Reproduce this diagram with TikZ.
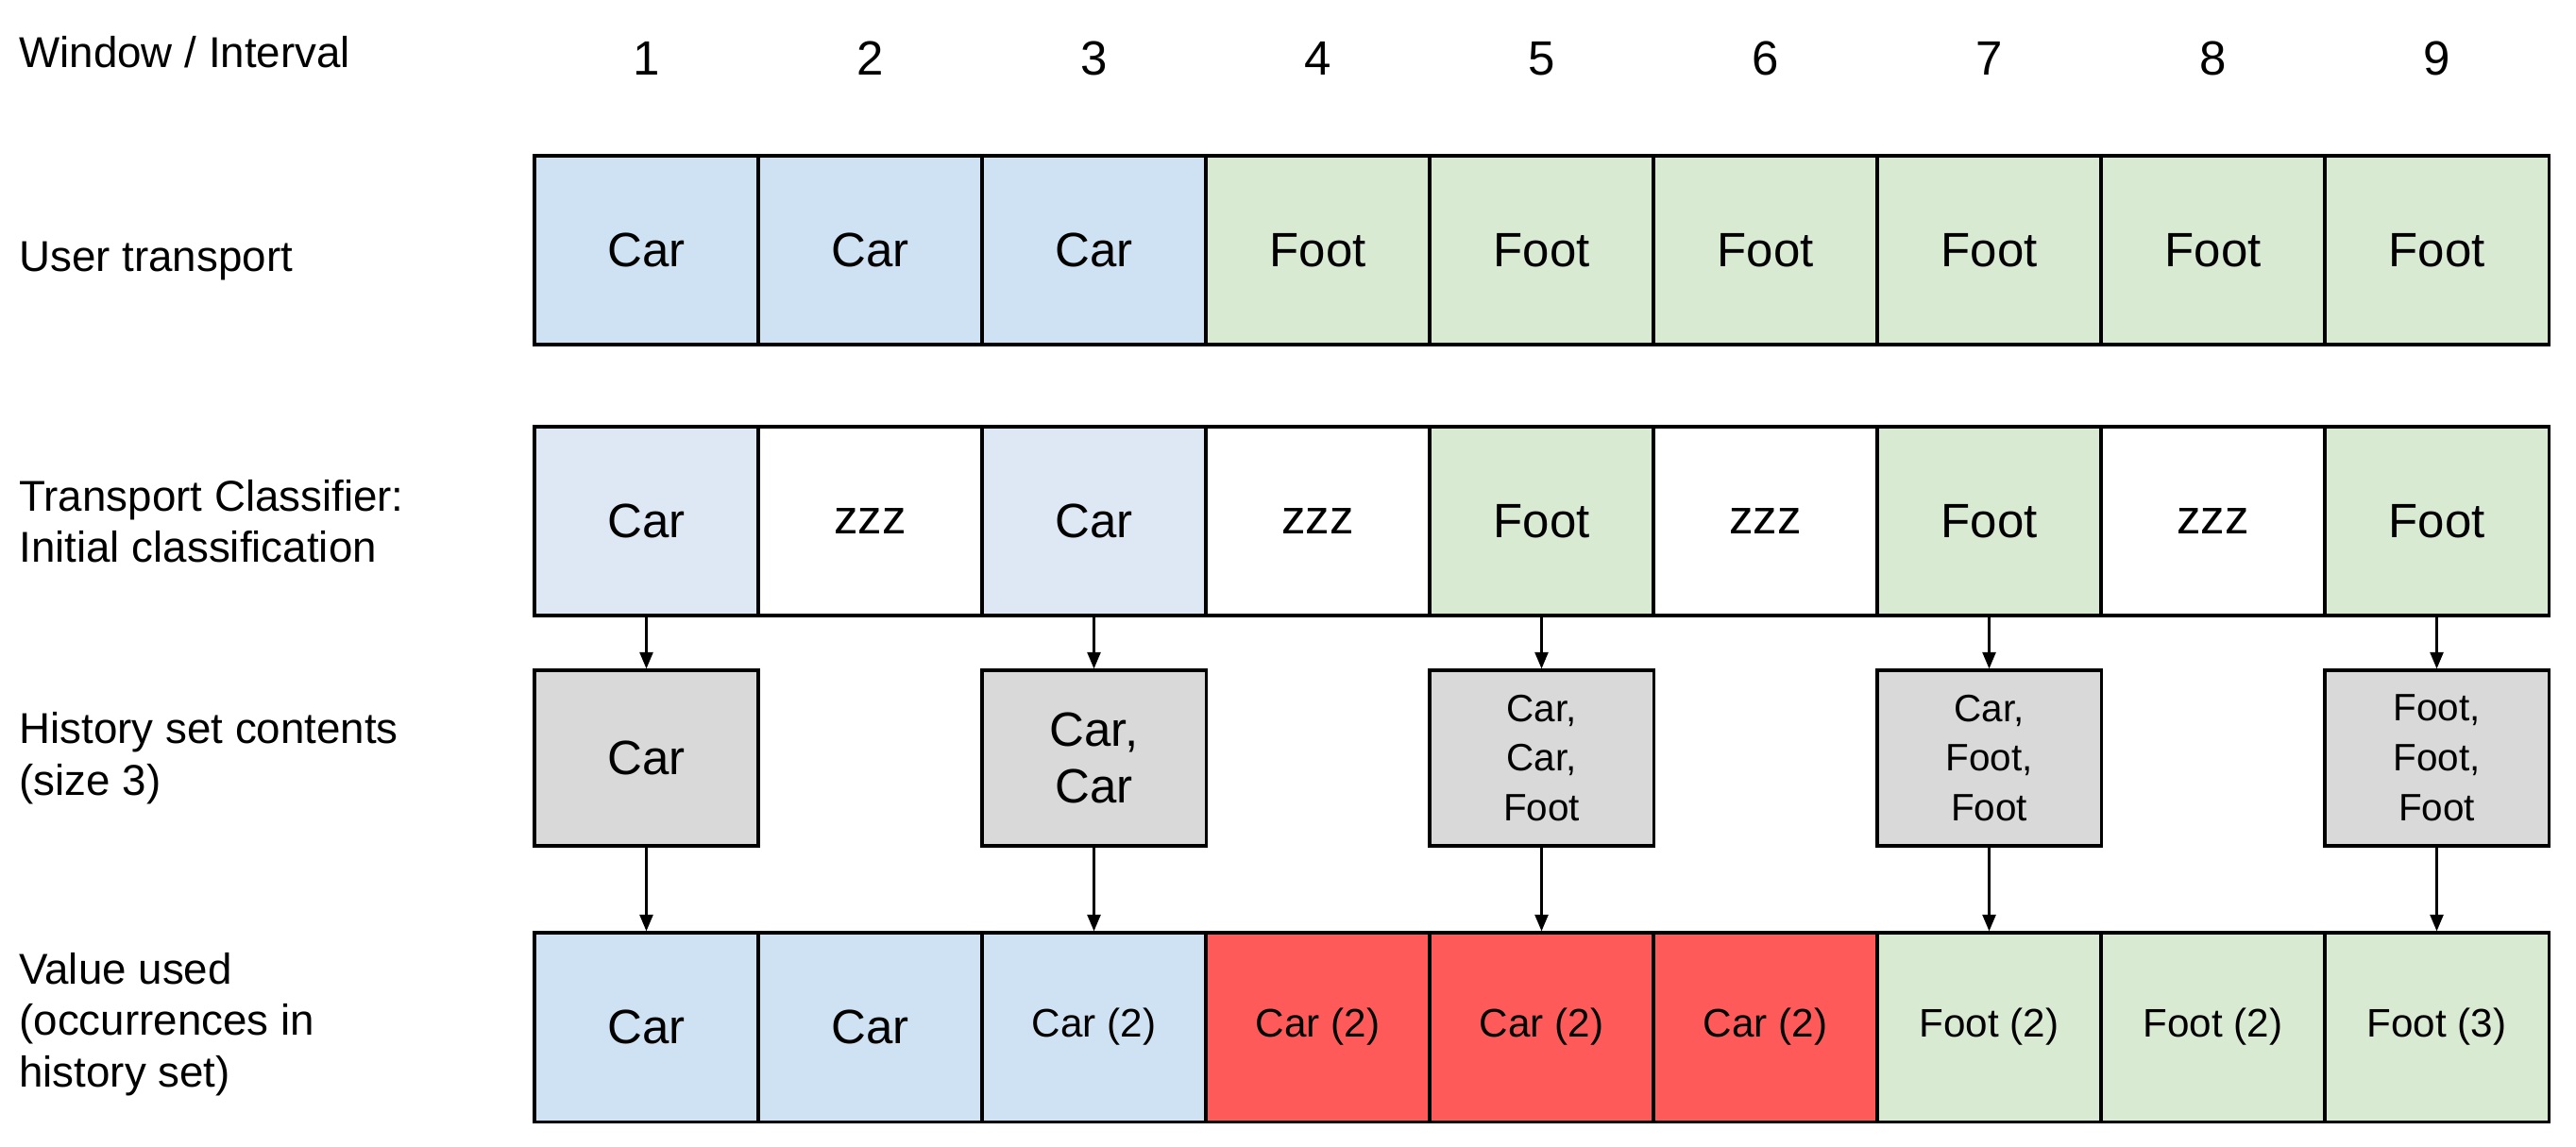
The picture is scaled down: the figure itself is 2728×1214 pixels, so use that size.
\documentclass[tikz,border=0pt]{standalone}
\usepackage{fontspec}
\setmainfont{Liberation Sans}
\usetikzlibrary{positioning}
\usetikzlibrary{arrows.meta}

\definecolor{carblue}{HTML}{CFE2F3}
\definecolor{carpale}{HTML}{DEE8F4}
\definecolor{footgreen}{HTML}{D9EAD3}
\definecolor{histgray}{HTML}{D9D9D9}
\definecolor{badred}{HTML}{FF5A5A}

\tikzset{
  cell/.style={draw, line width=0.9pt, minimum width=2.37cm, minimum height=2cm, inner sep=0pt, font=\fontsize{14.5}{16}\selectfont},
  hist/.style={cell, fill=histgray, minimum height=1.86cm, align=center},
  rowlabel/.style={anchor=west, align=left, font=\fontsize{13}{15.5}\selectfont},
  flow/.style={-{Triangle[length=5pt,width=4pt]}, line width=0.7pt},
}

\begin{document}
\begin{tikzpicture}[x=0.01cm, y=-0.01cm]
        \useasboundingbox (0,0) rectangle (2728,1214);

        % row labels
        \node[rowlabel] (lwin) at (8,55) {Window / Interval};
        \node[rowlabel] (luser) at (8,277) {User transport};
        \node[rowlabel] (lclass) at (8,552) {Transport Classifier:\\Initial classification};
        \node[rowlabel] (lhist) at (8,803) {History set contents\\(size 3)};
        \node[rowlabel] (lused) at (8,1085) {Value used\\(occurrences in\\history set)};

        % window numbers
        \foreach \i in {1,...,9}
            \node[font=\fontsize{14.5}{16}\selectfont] (num\i) at (447.5+237*\i,62) {\i};

        % user transport
        \foreach \t/\c [count=\i] in {Car/carblue,Car/carblue,Car/carblue,Foot/footgreen,Foot/footgreen,Foot/footgreen,Foot/footgreen,Foot/footgreen,Foot/footgreen}
            \node[cell, fill=\c] (user\i) at (447.5+237*\i,265) {\t};

        % initial classification
        \foreach \t/\c [count=\i] in {Car/carpale,zzz/white,Car/carpale,zzz/white,Foot/footgreen,zzz/white,Foot/footgreen,zzz/white,Foot/footgreen}
            \node[cell, fill=\c] (init\i) at (447.5+237*\i,552) {\t};

        % history sets
        \node[hist] (hist1) at (684.5,803) {Car};
        \node[hist, font=\fontsize{14.5}{17}\selectfont] (hist3) at (1158.5,803) {Car,\\Car};
        \node[hist, font=\fontsize{11.5}{15}\selectfont] (hist5) at (1632.5,803) {Car,\\Car,\\Foot};
        \node[hist, font=\fontsize{11.5}{15}\selectfont] (hist7) at (2106.5,803) {Car,\\Foot,\\Foot};
        \node[hist, font=\fontsize{11.5}{15}\selectfont] (hist9) at (2580.5,803) {Foot,\\Foot,\\Foot};

        % value used
        \foreach \t/\c/\s [count=\i] in {Car/carblue/14.5,Car/carblue/14.5,Car (2)/carblue/12,Car (2)/badred/12,Car (2)/badred/12,Car (2)/badred/12,Foot (2)/footgreen/12,Foot (2)/footgreen/12,Foot (3)/footgreen/12}
            \node[cell, fill=\c, font=\fontsize{\s}{14}\selectfont] (used\i) at (447.5+237*\i,1088) {\t};

        \foreach \i in {1,3,5,7,9} {
            \draw[flow] (init\i) -- (hist\i);
            \draw[flow] (hist\i) -- (used\i);
        }
\end{tikzpicture}
\end{document}
